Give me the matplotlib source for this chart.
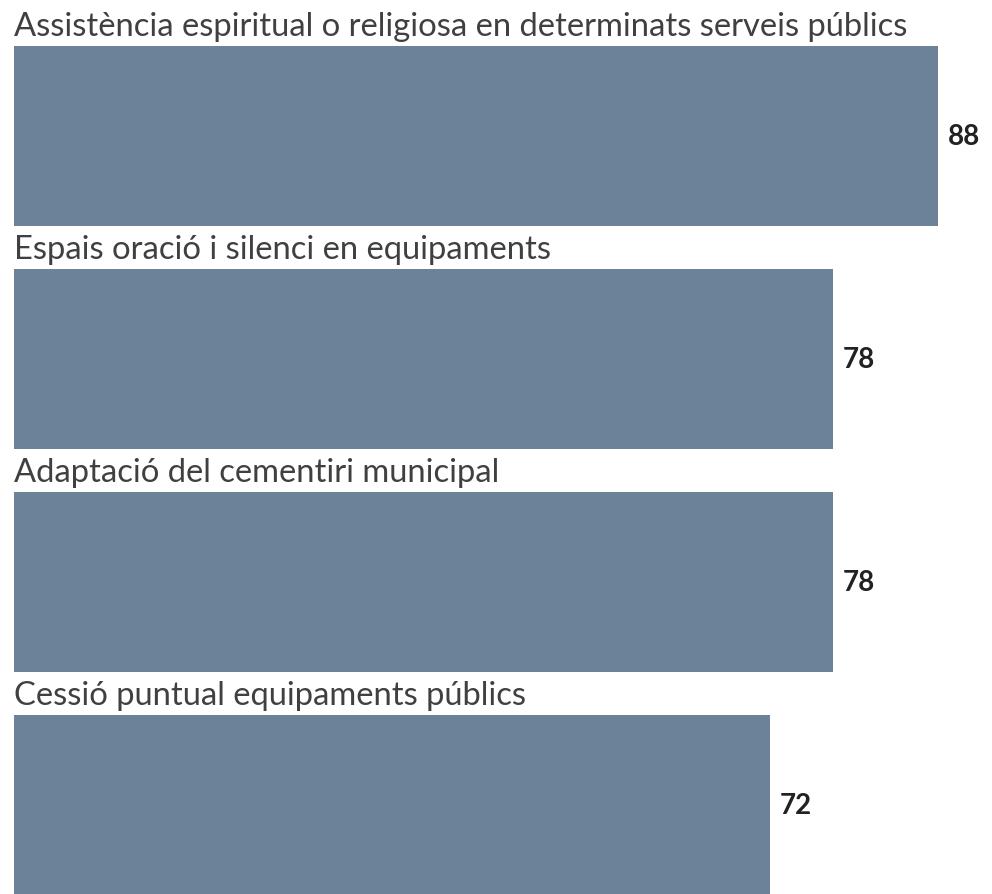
import matplotlib.pyplot as plt

labels = [
    "Assistència espiritual o religiosa en determinats serveis públics",
    "Espais oració i silenci en equipaments",
    "Adaptació del cementiri municipal",
    "Cessió puntual equipaments públics",
]
values = [88, 78, 78, 72]

BAR_COLOR = "#6c8299"
W, H = 992, 894

fig = plt.figure(figsize=(W / 100, H / 100), dpi=100)
ax = fig.add_axes([0, 0, 1, 1])
ax.set_xlim(-14 / 10.5, (W - 14) / 10.5)
ax.set_ylim(H, 0)
ax.axis("off")

centers = [136 + 223 * i for i in range(len(values))]
ax.barh(centers, values, height=180, color=BAR_COLOR, left=0)

for c, lab, v in zip(centers, labels, values):
    ax.text(0, c - 100, lab, ha="left", va="baseline", fontsize=23.6,
            family="Lato", color="#404040")
    ax.text(v + 0.9, c + 1, str(v), ha="left", va="center", fontsize=20,
            family="Lato", fontweight="bold", color="#222222")

fig.savefig("out.png", dpi=100)
